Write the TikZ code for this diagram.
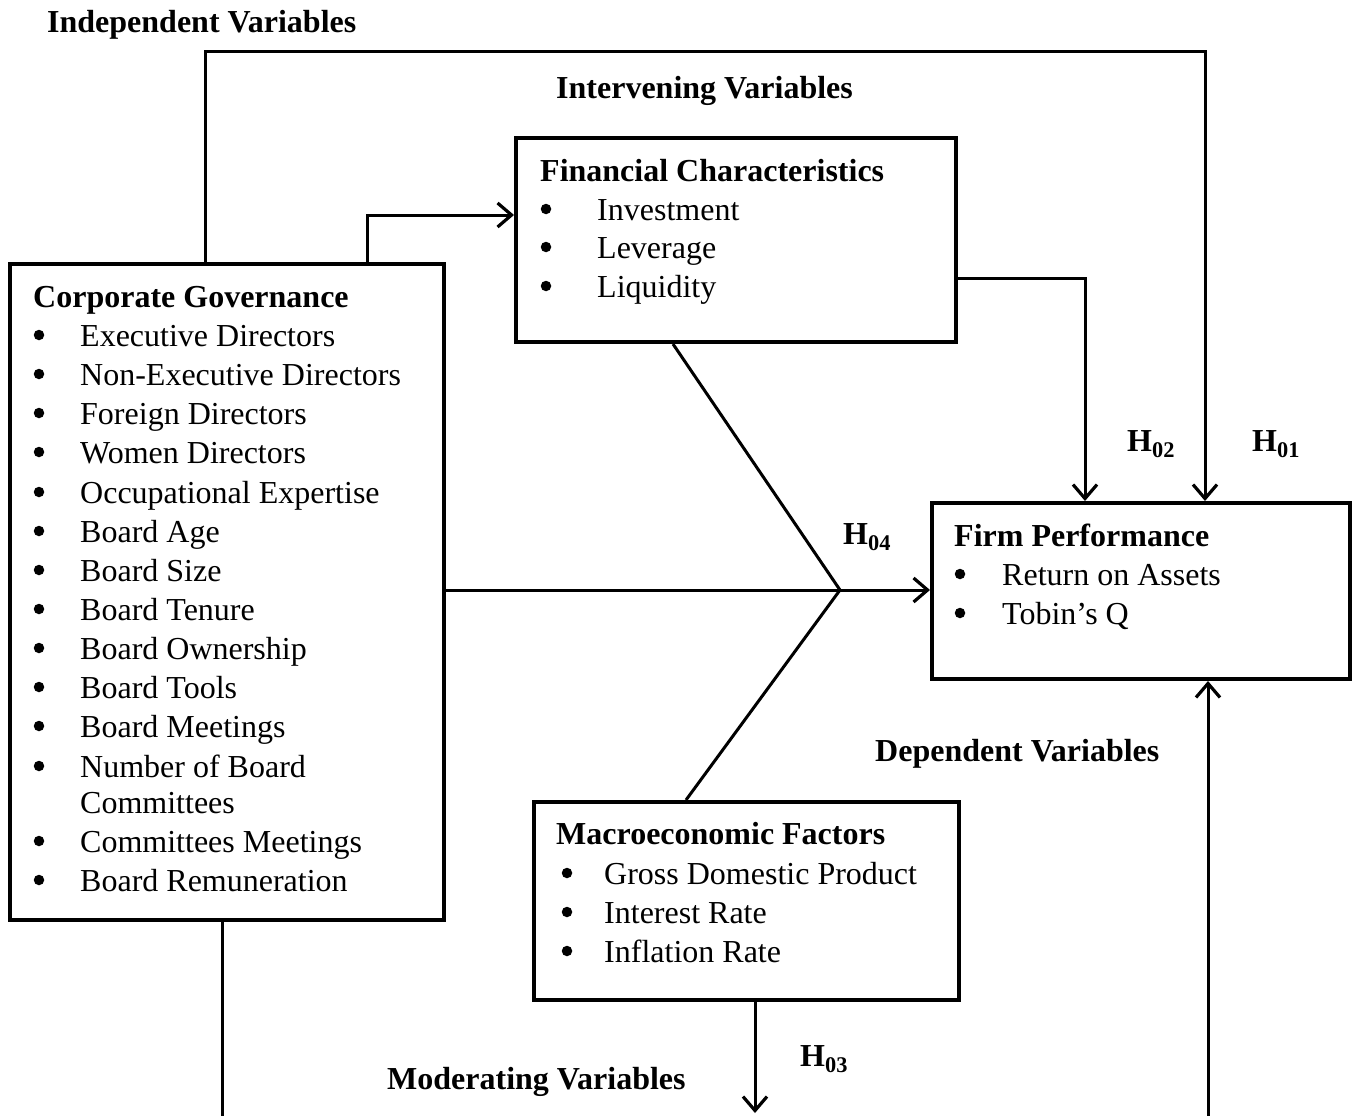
\documentclass[tikz,border=0pt]{standalone}
\usepackage{fontspec}
\setmainfont{Liberation Serif}
\usetikzlibrary{arrows.meta}
\begin{document}
\begin{tikzpicture}[x=1pt,y=-1pt,
  box/.style={draw,line width=4pt,rectangle,inner sep=0pt},
  conn/.style={line width=3pt},
  arr/.style={conn,-{Straight Barb[length=14pt,width=24pt,line width=3.2pt]}},
  txt/.style={anchor=base west,inner sep=0pt,font=\fontsize{32}{39}\selectfont},
  hd/.style={txt,font=\fontsize{32}{39}\selectfont\bfseries},
  bul/.style={circle,fill,inner sep=0pt,minimum size=10.5pt,yshift=11pt}]
\useasboundingbox (0,0) rectangle (1357,1116);
% boxes
\node[box,minimum width=434pt,minimum height=656pt] (cg) at (227,592) {};
\node[box,minimum width=440pt,minimum height=204pt] (fc) at (736,240) {};
\node[box,minimum width=418pt,minimum height=176pt] (fp) at (1141,591) {};
\node[box,minimum width=425pt,minimum height=198pt] (mf) at (746.5,901) {};
% helper coordinates
\coordinate (xa) at (205,0);
\coordinate (xb) at (367,0);
\coordinate (xc) at (1205,0);
\coordinate (xd) at (1085,0);
\coordinate (xe) at (673,0);
\coordinate (xf) at (686,0);
\coordinate (xg) at (755,0);
\coordinate (xh) at (222,0);
\coordinate (xi) at (1208,0);
\coordinate (ya) at (0,52);
\coordinate (yb) at (0,215);
\coordinate (yc) at (0,278);
\coordinate (yd) at (0,590);
\coordinate (j) at (840,590);
\coordinate (mfend) at (755,1113);
\coordinate (cgend) at (222,1118);
\coordinate (fpstart) at (1208,1118);
% connectors
\draw[arr] (cg.north -| xa) |- (ya -| xc) -- (fp.north -| xc);
\draw[arr] (cg.north -| xb) |- (fc.west |- yb);
\draw[arr] (fc.east |- yc) -| (fp.north -| xd);
\draw[conn] (cg.east |- yd) -- (j);
\draw[arr] (j) -- (fp.west |- yd);
\draw[conn] (fc.south -| xe) -- (j);
\draw[conn] (mf.north -| xf) -- (j);
\draw[arr] (mf.south -| xg) -- (mfend);
\draw[conn] (cg.south -| xh) -- (cgend);
\draw[arr] (fpstart) -- (fp.south -| xi);
% section labels
\node[hd] (lind) at (47,33) {Independent Variables};
\node[hd] (lint) at (556,99) {Intervening Variables};
\node[hd] (ldep) at (875,761) {Dependent Variables};
\node[hd] (lmod) at (387,1089) {Moderating Variables};
\node[hd] (h01) at (1252,451) {H\textsubscript{01}};
\node[hd] (h02) at (1127,451) {H\textsubscript{02}};
\node[hd] (h04) at (843,544) {H\textsubscript{04}};
\node[hd] (h03) at (800,1066) {H\textsubscript{03}};
% Corporate Governance
\node[hd] (cgt) at (33,307) {Corporate Governance};
\foreach \y/\t [count=\i] in {346/Executive Directors,385/Non-Executive Directors,424/Foreign Directors,463/Women Directors,503/Occupational Expertise,542/Board Age,581/Board Size,620/Board Tenure,659/Board Ownership,698/Board Tools,737/Board Meetings,777/Number of Board,852/Committees Meetings,891/Board Remuneration}{
  \node[bul] (cgb\i) at (39,\y) {};
  \node[txt] (cgi\i) at (80,\y) {\t};
}
\node[txt] (cgi15) at (80,813) {Committees};
% Financial Characteristics
\node[hd] (fct) at (540,181) {Financial Characteristics};
\foreach \y/\t [count=\i] in {220/Investment,258/Leverage,297/Liquidity}{
  \node[bul] (fcb\i) at (546,\y) {};
  \node[txt] (fci\i) at (597,\y) {\t};
}
% Firm Performance
\node[hd] (fpt) at (954,546) {Firm Performance};
\foreach \y/\t [count=\i] in {585/Return on Assets,624/Tobin’s Q}{
  \node[bul] (fpb\i) at (960,\y) {};
  \node[txt] (fpi\i) at (1002,\y) {\t};
}
% Macroeconomic Factors
\node[hd] (mft) at (556,844) {Macroeconomic Factors};
\foreach \y/\t [count=\i] in {884/Gross Domestic Product,923/Interest Rate,962/Inflation Rate}{
  \node[bul] (mfb\i) at (567,\y) {};
  \node[txt] (mfi\i) at (604,\y) {\t};
}
\end{tikzpicture}
\end{document}
